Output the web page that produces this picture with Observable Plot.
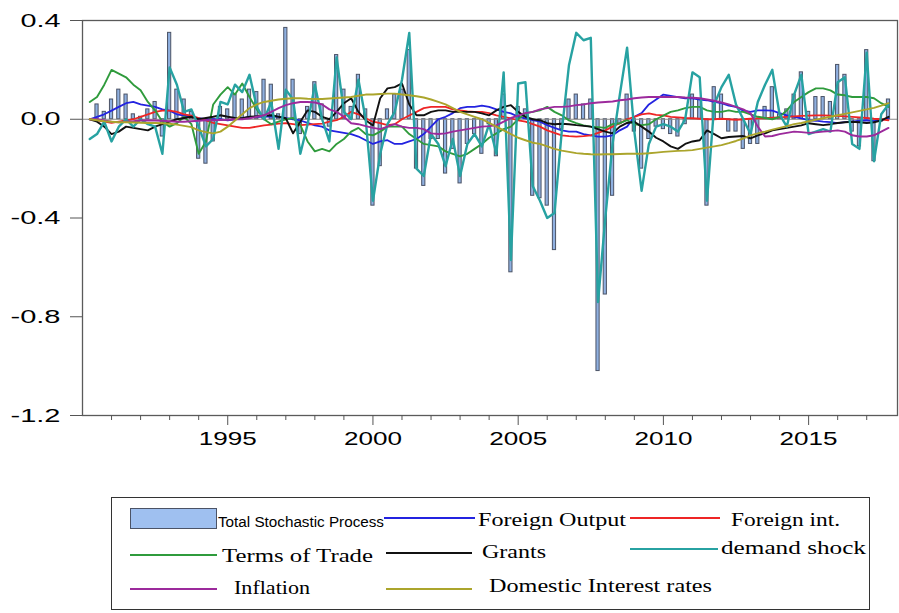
<!DOCTYPE html>
<html><head><meta charset="utf-8">
<script src="https://cdn.jsdelivr.net/npm/d3@7"></script>
<script src="https://cdn.jsdelivr.net/npm/@observablehq/plot@0.6"></script>
<style>
body{margin:0;background:#fff;}
#wrap{position:relative;width:899px;height:613px;overflow:hidden;background:#fff;}
#chart{position:absolute;left:0;top:0;}
#legend{position:absolute;left:0;top:470px;}
</style></head><body>
<div id="wrap"><div id="chart"></div><svg id="legend" width="899" height="143"></svg></div>
<script>
// Quarterly observations 1990Q2 .. 2017Q4
const startYear = 1990;
const yTicks = [0.4, 0.0, -0.4, -0.8, -1.2];
const xTicks = [1995, 2000, 2005, 2010, 2015];
const minorTicks = [1991,1992,1993,1994,1996,1997,1998,1999,2001,2002,2003,2004,2006,2007,2008,2009,2011,2012,2013,2014,2016,2017];

const totalStochastic = [
 0.0, 0.06, 0.03, 0.08, 0.12, 0.10, 0.02, 0.01, 0.04, 0.07,
 -0.07, 0.35, 0.12, 0.08, 0.03, -0.16, -0.18, -0.09, 0.05, 0.04,
 0.10, 0.08, 0.12, 0.11, 0.16, 0.14, 0.02, 0.37, 0.16, -0.06,
 0.05, 0.15, 0.06, -0.03, 0.26, 0.12, 0.05, 0.18, 0.04, -0.35,
 -0.19, 0.04, 0.10, 0.12, 0.28, -0.20, -0.27, -0.08, -0.08, -0.22,
 -0.12, -0.26, -0.10, -0.06, -0.14, -0.02, -0.15, 0.10, -0.62, 0.05,
 0.04, -0.31, -0.32, -0.35, -0.53, -0.04, 0.08, 0.10, 0.06, 0.08,
 -1.02, -0.71, -0.31, -0.02, 0.10, -0.05, -0.20, -0.08, -0.03, -0.04,
 -0.06, -0.07, -0.02, 0.10, 0.08, -0.35, 0.13, 0.10, -0.05, -0.05,
 -0.12, -0.10, -0.10, 0.05, 0.13, 0.02, 0.04, 0.10, 0.19, 0.03,
 0.09, 0.09, 0.07, 0.22, 0.18, -0.05, -0.11, 0.28, -0.17, -0.01,
 0.08];

const foreignOutput = [
 0.0, 0.01, 0.02, 0.035, 0.05, 0.065, 0.07, 0.06, 0.055, 0.05,
 0.04, 0.035, 0.02, 0.015, 0.01, 0.005, 0.0, 0.0, 0.0, -0.005,
 0.0, 0.005, 0.01, 0.01, 0.01, 0.012, 0.01, 0.005, 0.0, -0.005,
 -0.015, -0.025, -0.03, -0.045, -0.05, -0.055, -0.06, -0.07, -0.085, -0.1,
 -0.09, -0.085, -0.1, -0.1, -0.09, -0.08, -0.06, -0.03, 0.0, 0.01,
 0.025, 0.045, 0.05, 0.05, 0.055, 0.05, 0.04, 0.03, 0.024, 0.01,
 0.004, -0.004, -0.01, -0.024, -0.035, -0.045, -0.05, -0.05, -0.06, -0.065,
 -0.07, -0.07, -0.065, -0.045, -0.03, 0.01, 0.025, 0.06, 0.08, 0.1,
 0.095, 0.09, 0.085, 0.085, 0.08, 0.077, 0.07, 0.065, 0.055, 0.05,
 0.035, 0.03, 0.036, 0.036, 0.035, 0.025, 0.016, 0.01, 0.004, -0.004,
 -0.006, -0.01, -0.012, -0.016, -0.012, -0.01, -0.006, -0.004, -0.008, -0.004,
 0.004];

const foreignInt = [
 0.0, -0.005, -0.01, -0.015, -0.01, -0.005, 0.0, 0.01, 0.02, 0.03,
 0.035, 0.035, 0.03, 0.02, 0.015, 0.005, -0.005, -0.015, -0.02, -0.025,
 -0.03, -0.035, -0.035, -0.03, -0.025, -0.022, -0.018, -0.016, -0.02, -0.024,
 -0.022, -0.02, -0.018, -0.01, -0.004, 0.01, 0.03, 0.02, 0.004, -0.01,
 -0.016, -0.024, -0.02, 0.0, 0.015, 0.03, 0.045, 0.05, 0.05, 0.05,
 0.04, 0.036, 0.032, 0.03, 0.03, 0.025, 0.016, 0.01, 0.004, -0.005,
 -0.01, -0.02, -0.03, -0.045, -0.055, -0.065, -0.068, -0.07, -0.068, -0.065,
 -0.055, -0.045, -0.03, -0.016, 0.0, 0.01, 0.02, 0.024, 0.018, 0.016,
 0.01, 0.008, 0.005, 0.004, 0.002, 0.0, 0.0, 0.002, 0.0, -0.002,
 0.0, 0.002, 0.004, 0.004, 0.006, 0.008, 0.01, 0.012, 0.014, 0.015,
 0.016, 0.016, 0.015, 0.014, 0.012, 0.01, 0.008, 0.005, 0.002, 0.0,
 -0.004];

const termsOfTrade = [
 0.07, 0.09, 0.14, 0.2, 0.185, 0.17, 0.14, 0.117, 0.07, 0.036,
 -0.01, -0.03, -0.016, 0.01, -0.02, -0.14, -0.09, 0.06, 0.1, 0.13,
 0.1, 0.145, 0.09, 0.04, 0.0, -0.02, -0.01, 0.0, 0.005, -0.024,
 -0.09, -0.13, -0.12, -0.13, -0.1, -0.08, -0.05, -0.035, -0.06, -0.065,
 -0.05, -0.03, -0.03, -0.03, -0.06, -0.08, -0.1, -0.105, -0.11, -0.13,
 -0.14, -0.15, -0.14, -0.12, -0.1, -0.075, -0.057, -0.04, -0.03, 0.0,
 0.024, 0.03, 0.036, 0.05, 0.03, 0.016, -0.005, -0.016, -0.025, -0.03,
 -0.032, -0.035, -0.02, -0.016, -0.004, -0.02, -0.024, -0.02, 0.0, 0.015,
 0.03, 0.036, 0.045, 0.05, 0.05, 0.036, 0.03, 0.03, 0.036, 0.03,
 0.03, 0.02, 0.01, 0.005, 0.0, 0.01, 0.036, 0.07, 0.09, 0.11,
 0.125, 0.125, 0.117, 0.1, 0.097, 0.09, 0.09, 0.09, 0.085, 0.065,
 0.05];

const grants = [
 0.0, -0.01, -0.03, -0.06, -0.05, -0.03, -0.035, -0.04, -0.045, -0.03,
 -0.02, -0.01, 0.0, 0.005, 0.01, 0.0, 0.005, 0.01, 0.016, 0.01,
 0.005, 0.004, 0.01, 0.012, 0.014, 0.016, 0.01, 0.004, -0.057, -0.01,
 0.036, 0.03, 0.01, 0.0, 0.03, 0.065, 0.085, 0.03, -0.004, -0.025,
 0.085, 0.125, 0.13, 0.145, 0.06, 0.016, 0.016, 0.03, 0.036, 0.036,
 0.03, 0.03, 0.03, 0.03, 0.024, 0.016, 0.036, 0.05, 0.057, 0.03,
 0.01, 0.0, -0.004, -0.016, -0.02, -0.018, -0.02, -0.024, -0.027, -0.03,
 -0.04, -0.05, -0.057, -0.03, -0.015, -0.01, -0.03, -0.05, -0.075, -0.09,
 -0.11, -0.12, -0.1, -0.09, -0.085, -0.045, -0.06, -0.077, -0.072, -0.07,
 -0.068, -0.077, -0.065, -0.057, -0.045, -0.04, -0.035, -0.03, -0.025, -0.016,
 -0.02, -0.024, -0.02, -0.015, -0.012, -0.01, -0.012, -0.015, -0.012, -0.005,
 0.01];

const demandShock = [
 -0.08, -0.06, -0.01, -0.09, -0.03, 0.0, -0.03, 0.0, -0.02, -0.03,
 -0.14, 0.21, 0.14, 0.03, 0.04, -0.03, -0.11, -0.08, 0.07, 0.06,
 0.14, 0.11, 0.18, 0.05, 0.0, 0.07, -0.12, 0.12, 0.08, -0.14,
 -0.02, 0.14, 0.0, -0.09, 0.25, 0.03, 0.0, 0.16, 0.0, -0.33,
 -0.14, -0.02, 0.03, 0.16, 0.35, -0.2, -0.23, -0.06, -0.1, -0.19,
 -0.08, -0.23, -0.1, -0.06, -0.11, -0.02, -0.14, 0.19, -0.57, 0.145,
 0.15, -0.27, -0.33, -0.4, -0.38, -0.05, 0.22, 0.35, 0.32, 0.33,
 -0.74, -0.4, -0.1, 0.1, 0.29, -0.05, -0.29, -0.1, -0.03, -0.02,
 -0.03, -0.05, 0.0, 0.19, 0.17, -0.33, 0.06, 0.13, 0.18, 0.06,
 0.0, -0.06, 0.07, 0.14, 0.2, 0.02, -0.03, 0.1, 0.18, -0.06,
 -0.05, -0.04, -0.05, 0.15, 0.17, -0.1, -0.12, 0.27, -0.17, 0.02,
 0.06];

const inflation = [
 0.0, 0.0, -0.005, -0.01, -0.012, -0.01, -0.008, -0.005, -0.004, -0.005,
 -0.006, -0.008, -0.01, -0.01, -0.008, -0.006, -0.004, -0.004, -0.003, -0.002,
 0.0, 0.0, 0.004, 0.01, 0.016, 0.03, 0.045, 0.057, 0.065, 0.07,
 0.07, 0.068, 0.06, 0.04, 0.03, 0.01, -0.016, -0.02, -0.028, -0.035,
 -0.04, -0.03, -0.02, -0.03, -0.035, -0.035, -0.04, -0.057, -0.06, -0.057,
 -0.05, -0.045, -0.04, -0.035, -0.03, -0.028, -0.025, -0.01, 0.005, 0.015,
 0.025, 0.03, 0.04, 0.045, 0.05, 0.05, 0.052, 0.057, 0.06, 0.065,
 0.068, 0.07, 0.072, 0.077, 0.08, 0.085, 0.088, 0.09, 0.09, 0.09,
 0.09, 0.09, 0.088, 0.087, 0.085, 0.08, 0.075, 0.068, 0.06, 0.05,
 0.04, 0.024, -0.03, -0.07, -0.068, -0.06, -0.055, -0.05, -0.052, -0.055,
 -0.053, -0.05, -0.048, -0.045, -0.05, -0.065, -0.07, -0.07, -0.065, -0.05,
 -0.035];

const domesticRates = [
 0.0, -0.004, -0.008, -0.01, -0.012, -0.012, -0.013, -0.014, -0.015, -0.015,
 -0.016, -0.018, -0.022, -0.027, -0.032, -0.045, -0.052, -0.057, -0.05, -0.03,
 -0.005, 0.02, 0.045, 0.06, 0.07, 0.075, 0.08, 0.083, 0.085, 0.085,
 0.083, 0.082, 0.082, 0.084, 0.086, 0.088, 0.09, 0.095, 0.1, 0.1,
 0.102, 0.104, 0.104, 0.1, 0.097, 0.093, 0.088, 0.08, 0.07, 0.06,
 0.045, 0.03, 0.02, 0.01, 0.0, -0.015, -0.03, -0.045, -0.06, -0.075,
 -0.085, -0.095, -0.1, -0.11, -0.12, -0.127, -0.132, -0.137, -0.14, -0.142,
 -0.143, -0.142, -0.142, -0.141, -0.14, -0.14, -0.14, -0.138, -0.135, -0.132,
 -0.13, -0.128, -0.127, -0.125, -0.12, -0.115, -0.11, -0.105, -0.097, -0.088,
 -0.078, -0.065, -0.057, -0.05, -0.042, -0.035, -0.028, -0.02, -0.015, -0.008,
 -0.002, 0.004, 0.01, 0.016, 0.022, 0.028, 0.034, 0.04, 0.046, 0.055,
 0.065];

const seriesNames = ["Foreign Output","Foreign int.","Terms of Trade","Grants","demand shock","Inflation","Domestic Interest rates"];
const seriesValues = [foreignOutput, foreignInt, termsOfTrade, grants, demandShock, inflation, domesticRates];
const seriesColors = ["#2323e0","#ee2525","#2f9b3c","#111111","#27a2a2","#9c2a9c","#aba52c"];
const seriesWidths = [1.8, 1.8, 1.9, 1.9, 2.4, 1.9, 1.9];

const time = totalStochastic.map((_, i) => startYear + (i + 1) / 4);
const bars = totalStochastic.map((v, i) => ({t: time[i], v}));
const lineMarks = seriesNames.map((name, k) =>
  Plot.line(seriesValues[k].map((v, i) => ({t: time[i], v})),
    {x: "t", y: "v", stroke: seriesColors[k], strokeWidth: seriesWidths[k], strokeLinejoin: "round"}));

const chart = Plot.plot({
  width: 899, height: 470,
  marginLeft: 82, marginRight: 2, marginTop: 20, marginBottom: 55,
  x: {domain: [1990, 2018.06]},
  y: {domain: [-1.2, 0.4]},
  style: {fontFamily: "'Liberation Sans', Arial, sans-serif", fontSize: "19px", color: "#000", background: "#fff"},
  marks: [
    Plot.rect(bars, {x1: d => d.t - 0.055, x2: d => d.t + 0.055, y1: 0, y2: "v",
      fill: "#8fb0e0", stroke: "#4b5366", strokeWidth: 1}),
    Plot.ruleY([0], {stroke: "#8a8a8a", strokeWidth: 1}),
    ...lineMarks,
    Plot.frame({stroke: "#5a5a5a", strokeWidth: 1.3}),
    Plot.axisY(yTicks, {label: null, tickSize: 12, tickPadding: 10, tickFormat: d => d.toFixed(1), stroke: "#555", fontSize: 19}),
    Plot.axisX(minorTicks, {label: null, tickSize: 5, tickFormat: () => "", stroke: "#555"}),
    Plot.axisX(xTicks, {label: null, tickSize: 10, tickPadding: 6, tickFormat: d => String(d), stroke: "#555", fontSize: 19})
  ]
});
document.getElementById("chart").appendChild(chart);

// widen the tick labels like the reference (stretched glyphs)
d3.select(chart).selectAll('g[aria-label="y-axis tick label"] text').each(function() {
  const s = this.textContent;
  d3.select(this).attr("textLength", s.length > 3 ? 50 : 40).attr("lengthAdjust", "spacingAndGlyphs");
});
d3.select(chart).selectAll('g[aria-label="x-axis tick label"] text').each(function() {
  if (this.textContent) d3.select(this).attr("textLength", 58).attr("lengthAdjust", "spacingAndGlyphs");
});

// Legend (below the plot)
const lg = d3.select("#legend");
const oy = 470;
lg.append("rect").attr("x", 111.5).attr("y", 497.5 - oy).attr("width", 758).attr("height", 112)
  .attr("fill", "#fff").attr("stroke", "#333").attr("stroke-width", 1);
lg.append("rect").attr("x", 130.5).attr("y", 508.5 - oy).attr("width", 86).attr("height", 20)
  .attr("fill", "#9fc0f0").attr("stroke", "#4b5366").attr("stroke-width", 1);
lg.append("text").attr("x", 218).attr("y", 527 - oy).attr("textLength", 166).attr("lengthAdjust", "spacingAndGlyphs")
  .attr("font-family", "'Liberation Sans', Arial, sans-serif").attr("font-size", 14).text("Total Stochastic Process");
const legendItems = [
  {k: 0, x1: 384, x2: 475, ly: 518, tx: 478, ty: 526, tl: 148},
  {k: 1, x1: 630, x2: 720, ly: 518, tx: 731, ty: 526, tl: 109},
  {k: 2, x1: 130, x2: 217, ly: 555, tx: 222, ty: 562, tl: 151},
  {k: 3, x1: 386, x2: 472, ly: 553, tx: 482, ty: 558, tl: 64},
  {k: 4, x1: 630, x2: 718, ly: 549, tx: 721, ty: 554, tl: 145},
  {k: 5, x1: 130, x2: 217, ly: 589, tx: 234, ty: 594, tl: 76},
  {k: 6, x1: 386, x2: 472, ly: 589, tx: 489, ty: 592, tl: 223}
];
legendItems.forEach(it => {
  lg.append("line").attr("x1", it.x1).attr("x2", it.x2).attr("y1", it.ly - oy).attr("y2", it.ly - oy)
    .attr("stroke", seriesColors[it.k]).attr("stroke-width", 2.2);
  lg.append("text").attr("x", it.tx).attr("y", it.ty - oy).attr("textLength", it.tl).attr("lengthAdjust", "spacingAndGlyphs")
    .attr("font-family", "'Liberation Serif', 'Times New Roman', serif").attr("font-size", 19).text(seriesNames[it.k]);
});
</script>
</body></html>
